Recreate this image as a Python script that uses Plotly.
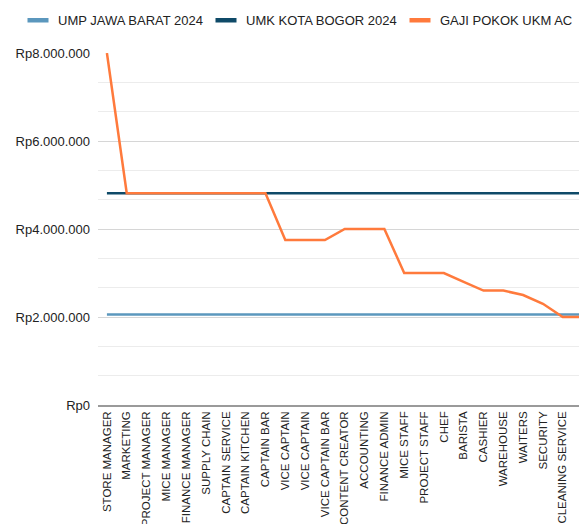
import plotly.graph_objects as go

categories = ["STORE MANAGER", "MARKETING", "PROJECT MANAGER", "MICE MANAGER",
              "FINANCE MANAGER", "SUPPLY CHAIN", "CAPTAIN SERVICE", "CAPTAIN KITCHEN",
              "CAPTAIN BAR", "VICE CAPTAIN", "VICE CAPTAIN", "VICE CAPTAIN BAR",
              "CONTENT CREATOR", "ACCOUNTING", "FINANCE ADMIN", "MICE STAFF",
              "PROJECT STAFF", "CHEF", "BARISTA", "CASHIER", "WAREHOUSE", "WAITERS",
              "SECURITY", "CLEANING SERVICE", "MAINTENANCE"]
ump_jabar = [2057495] * len(categories)
umk_bogor = [4813988] * len(categories)
gaji_pokok = [8000000, 4813988, 4813988, 4813988, 4813988, 4813988, 4813988, 4813988,
              4813988, 3750000, 3750000, 3750000, 4000000, 4000000, 4000000, 3000000,
              3000000, 3000000, 2800000, 2600000, 2600000, 2500000, 2300000, 2000000,
              2000000]
series_names = ["UMP JAWA BARAT 2024", "UMK KOTA BOGOR 2024", "GAJI POKOK UKM AC"]
colors = ["#5b97bd", "#0f4a68", "#ff7a3c"]
y_ticks = [0, 2000000, 4000000, 6000000, 8000000]
y_tick_labels = ["Rp0", "Rp2.000.000", "Rp4.000.000", "Rp6.000.000", "Rp8.000.000"]

x = list(range(len(categories)))
FONT = "Liberation Sans, Arial, sans-serif"
legend_ids = ["legend", "legend2", "legend3"]
legend_x = [27 / 579, 215 / 579, 409 / 579]

fig = go.Figure()
for vals, name, col in zip([ump_jabar, umk_bogor, gaji_pokok], series_names, colors):
    fig.add_trace(go.Scatter(x=x, y=vals, mode="lines", name=name, showlegend=False,
                             line=dict(color=col, width=2.5), legendgroup=name,
                             hoverinfo="skip"))
for name, col, lid in zip(series_names, colors, legend_ids):
    fig.add_trace(go.Scatter(x=[None], y=[None], mode="markers", name=name,
                             legendgroup=name, legend=lid,
                             marker=dict(symbol="line-ew", size=15,
                                         line=dict(color=col, width=4.5))))

fig.update_layout(
    width=579, height=524,
    margin=dict(l=98, r=0, t=53, b=119),
    paper_bgcolor="white", plot_bgcolor="white",
    font=dict(family=FONT, color="#222222"),
    xaxis=dict(range=[-0.45, 23.82], tickmode="array", tickvals=x, ticktext=categories,
               tickangle=-90, tickfont=dict(size=11.5, color="#222222"),
               showgrid=False, showline=True, linecolor="#9a9a9a", linewidth=1.5,
               zeroline=False, automargin=False, ticks=""),
    yaxis=dict(range=[0, 8000000], tickmode="array", tickvals=y_ticks,
               ticktext=y_tick_labels,
               tickfont=dict(size=13, color="#222222"),
               showgrid=True, gridcolor="#d6d6d6", gridwidth=1.2,
               minor=dict(dtick=2000000 / 3, tick0=0, showgrid=True,
                          gridcolor="#ececec", gridwidth=1),
               zeroline=False, showline=False, automargin=False, ticks="",
               ticklabelstandoff=7),
)
for lid, lx in zip(legend_ids, legend_x):
    fig.update_layout({lid: dict(orientation="h", xref="container", yref="container",
                                 x=lx, xanchor="left", y=0.99, yanchor="top",
                                 font=dict(size=13, color="#222222"), itemwidth=30,
                                 indentation=-9, bgcolor="rgba(0,0,0,0)")})

fig.write_html("out.html")
